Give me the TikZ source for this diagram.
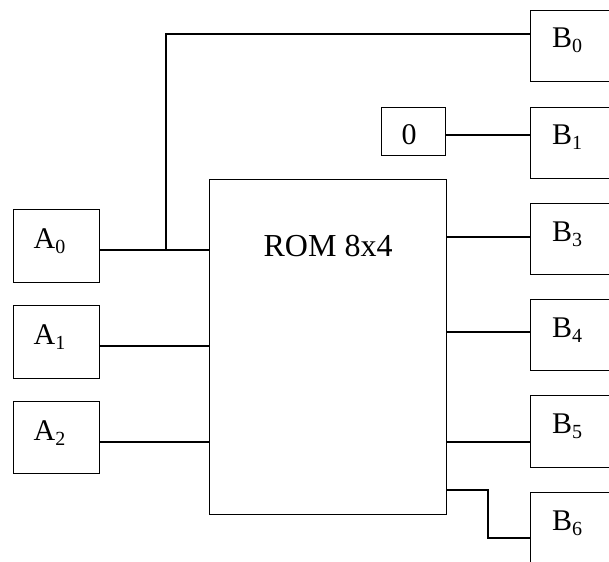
\documentclass[tikz,border=0pt]{standalone}
\usepackage{fontspec}
\setmainfont{Liberation Serif}
\newcommand{\sig}[2]{#1\raisebox{-5pt}{\fontsize{20}{20}\selectfont #2}}
\begin{document}
\begin{tikzpicture}[x=1pt,y=-1pt,line width=1.2pt,
  box/.style={draw,rectangle,inner sep=0pt,anchor=north west},
  lbl/.style={font=\fontsize{30}{30}\selectfont,inner sep=0pt,anchor=base west},
  wire/.style={draw,line cap=rect}]
\clip (0,0) rectangle (609,561);
% boxes
\node[box,minimum width=86,minimum height=73] (A0) at (13,209) {};
\node[box,minimum width=86,minimum height=73] (A1) at (13,305) {};
\node[box,minimum width=86,minimum height=72] (A2) at (13,401) {};
\node[box,minimum width=237,minimum height=335] (ROM) at (209,179) {};
\node[box,minimum width=64,minimum height=48] (Z) at (381,107) {};
\node[box,minimum width=100,minimum height=71] (B0) at (530,10) {};
\node[box,minimum width=100,minimum height=71] (B1) at (530,107) {};
\node[box,minimum width=100,minimum height=71] (B3) at (530,203) {};
\node[box,minimum width=100,minimum height=71] (B4) at (530,299) {};
\node[box,minimum width=100,minimum height=72] (B5) at (530,395) {};
\node[box,minimum width=100,minimum height=100] (B6) at (530,492) {};
% labels
\node[lbl] (tA0) at ([shift={(20,39)}]A0.north west) {\sig{A}{0}};
\node[lbl] (tA1) at ([shift={(20,39)}]A1.north west) {\sig{A}{1}};
\node[lbl] (tA2) at ([shift={(20,39)}]A2.north west) {\sig{A}{2}};
\node[lbl,font=\fontsize{32}{32}\selectfont] (tROM) at ([shift={(54,77)}]ROM.north west) {ROM 8x4};
\node[lbl] (tZ) at ([shift={(20,38)}]Z.north west) {0};
\node[lbl] (tB0) at ([shift={(21.5,38)}]B0.north west) {\sig{B}{0}};
\node[lbl] (tB1) at ([shift={(21.5,38)}]B1.north west) {\sig{B}{1}};
\node[lbl] (tB3) at ([shift={(21.5,38)}]B3.north west) {\sig{B}{3}};
\node[lbl] (tB4) at ([shift={(21.5,38)}]B4.north west) {\sig{B}{4}};
\node[lbl] (tB5) at ([shift={(21.5,38)}]B5.north west) {\sig{B}{5}};
\node[lbl] (tB6) at ([shift={(21.5,38)}]B6.north west) {\sig{B}{6}};
% wires
\coordinate (tap) at (166,250);
\coordinate (bend1) at (488,490);
\coordinate (bend2) at (488,538);
\draw (A0.east |- 0,250) -- (ROM.west |- 0,250);
\draw (A1.east |- 0,346) -- (ROM.west |- 0,346);
\draw (A2.east |- 0,442) -- (ROM.west |- 0,442);
\draw (tap) -- (tap |- 0,34) -- (B0.west |- 0,34);
\draw (Z.east |- 0,135) -- (B1.west |- 0,135);
\draw (ROM.east |- 0,237) -- (B3.west |- 0,237);
\draw (ROM.east |- 0,332) -- (B4.west |- 0,332);
\draw (ROM.east |- 0,442) -- (B5.west |- 0,442);
\draw (ROM.east |- bend1) -- (bend1) -- (bend2) -- (B6.west |- bend2);
\end{tikzpicture}
\end{document}
